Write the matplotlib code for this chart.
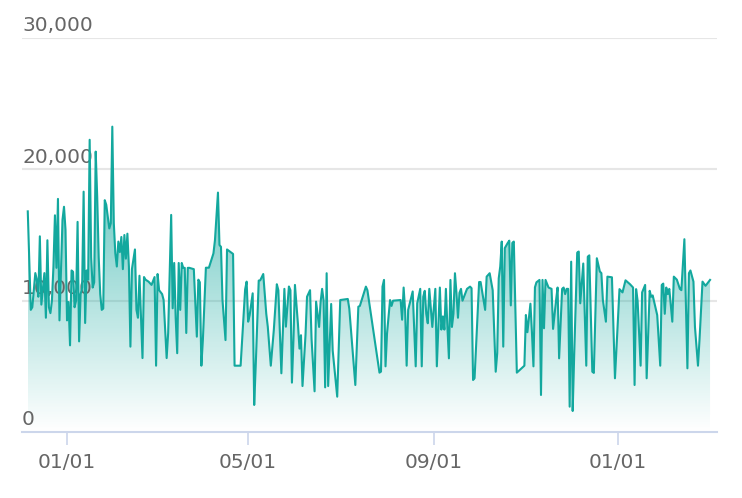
import datetime as dt
import numpy as np
import matplotlib
matplotlib.use("Agg")
import matplotlib.pyplot as plt
import matplotlib.dates as mdates
from matplotlib.colors import LinearSegmentedColormap

# days since 2020-12-06 and the value on that day
start = dt.date(2020, 12, 6)
day_offsets = [
    0, 2, 3, 5, 6, 7, 8, 9, 11, 12, 13, 14, 15, 16, 17, 18, 19, 20, 21, 23,
    24, 25, 26, 27, 28, 29, 30, 31, 32, 33, 34, 35, 36, 37, 38, 39, 40, 41, 42, 43,
    44, 45, 46, 47, 48, 49, 50, 51, 52, 53, 54, 55, 56, 57, 58, 59, 60, 61, 62, 63,
    64, 65, 66, 67, 68, 69, 71, 72, 73, 74, 76, 77, 78, 80, 82, 84, 85, 86, 87, 89,
    90, 92, 93, 95, 96, 97, 98, 99, 100, 101, 102, 103, 104, 105, 106, 107, 110, 112, 113, 114,
    115, 116, 118, 120, 123, 124, 126, 127, 128, 129, 131, 132, 136, 137, 141, 144, 145, 146, 147, 149,
    150, 151, 153, 154, 156, 158, 159, 161, 163, 165, 166, 168, 170, 171, 173, 174, 175, 176, 177, 179,
    180, 181, 182, 184, 185, 187, 188, 190, 191, 193, 194, 195, 196, 197, 198, 199, 201, 202, 205, 207,
    212, 213, 217, 219, 220, 224, 225, 233, 234, 235, 236, 237, 238, 240, 241, 242, 247, 248, 249, 250,
    251, 252, 255, 257, 258, 260, 261, 262, 263, 264, 265, 266, 268, 269, 270, 271, 273, 274, 275, 276,
    277, 278, 279, 280, 281, 282, 283, 284, 285, 286, 287, 288, 291, 293, 294, 295, 296, 299, 300, 303,
    304, 306, 307, 308, 310, 311, 312, 313, 314, 315, 316, 318, 319, 320, 321, 322, 324, 329, 330, 331,
    333, 334, 335, 336, 337, 339, 340, 341, 342, 343, 345, 347, 348, 350, 351, 352, 354, 355, 356, 357,
    358, 359, 360, 361, 362, 364, 365, 366, 367, 368, 370, 371, 372, 374, 375, 377, 379, 380, 381, 383,
    384, 387, 389, 392, 394, 396, 399, 401, 402, 403, 404, 406, 407, 409, 410, 412, 413, 414, 415, 417,
    419, 420, 421, 422, 423, 424, 425, 427, 428, 430, 432, 433, 435, 437, 438, 439, 441, 442, 444, 445,
    447, 449, 452,
]
values = [
    16800, 9300, 9500, 12100, 11600, 10300, 14900, 9700, 12100, 8700, 14600, 9500, 9050, 10000, 12600, 16500, 12500, 17750, 8500, 16150,
    17150, 15400, 8500, 9900, 6600, 12300, 12200, 9500, 10000, 16000, 6900, 10500, 11000, 18300, 8300, 12300, 11600, 22250, 13300, 11000,
    11400, 21350, 17900, 13300, 10500, 9300, 9400, 17650, 17300, 16400, 15500, 15900, 23250, 15900, 13600, 12600, 14500, 13700, 14850, 12400,
    15000, 13200, 15100, 12600, 6500, 12400, 13900, 9300, 8700, 11900, 5630, 11800, 11600, 11450, 11200, 11800, 5050, 12030, 10800, 10500,
    10050, 5630, 7540, 16530, 9420, 12870, 8650, 6000, 12870, 9300, 12870, 12500, 12500, 7540, 12500, 12500, 12400, 7260, 11600, 11400,
    5050, 7000, 12510, 12510, 13600, 14600, 18230, 14240, 14100, 10050, 7000, 13900, 13560, 5050, 5050, 10860, 11450, 8400, 8900, 10560,
    2060, 5000, 11530, 11550, 12030, 9000, 8020, 5050, 7770, 11250, 10800, 4470, 10900, 8020, 11080, 10800, 3760, 7000, 11200, 8200,
    6350, 7370, 3500, 7400, 10300, 10800, 7100, 3100, 9930, 8000, 9900, 10900, 10000, 3400, 12090, 3500, 9750, 6200, 2690, 10050,
    10130, 9400, 3580, 9540, 9600, 11070, 10800, 4520, 4600, 11070, 11580, 5000, 7500, 10050, 9600, 10000, 10050, 8550, 11000, 9200,
    5050, 9300, 10700, 5000, 9800, 10900, 5000, 10300, 10750, 9000, 8280, 10900, 8000, 9400, 10900, 5000, 11000, 7800, 8800, 7800,
    10900, 8000, 5610, 11580, 8000, 9000, 12090, 10600, 8700, 10600, 10900, 10000, 10900, 11070, 10950, 3960, 4100, 11420, 11420, 9300,
    11830, 12090, 11450, 10800, 4590, 6000, 11700, 12600, 14500, 6500, 14000, 14400, 14570, 9640, 14400, 14500, 4520, 5050, 8910, 7600,
    9770, 7600, 5000, 11020, 11400, 11580, 2820, 11580, 7900, 11580, 11000, 10900, 7850, 10050, 11000, 5610, 10900, 11000, 10500, 10900,
    10900, 1930, 12970, 1600, 5900, 13660, 13740, 9800, 11300, 12830, 5050, 13350, 13450, 4590, 4500, 13230, 12220, 12100, 10050, 8400,
    11830, 11780, 4090, 10880, 10630, 11550, 11250, 11000, 3580, 10880, 10000, 5050, 10630, 11200, 4090, 10750, 10300, 10400, 9900, 8900,
    5050, 11200, 11300, 9000, 11000, 10500, 10900, 8400, 11830, 11600, 10900, 10800, 14680, 4850, 12090, 12300, 11450, 8000, 5050, 7000,
    11450, 11130, 11580,
]
y_ticks = [0, 10000, 20000, 30000]
x_ticks = [dt.date(2021, 1, 1), dt.date(2021, 5, 1), dt.date(2021, 9, 1), dt.date(2022, 1, 1)]

line_color = "#13a89e"
text_color = "#666666"
grid_color = "#e6e6e6"
axis_color = "#ccd6eb"

dates = [start + dt.timedelta(days=d) for d in day_offsets]
x = mdates.date2num(dates)
y = np.array(values, dtype=float)

fig = plt.figure(figsize=(7.42, 4.98), dpi=100)
ax = fig.add_axes([0.0297, 0.1325, 0.9366, 0.7912])

xmin = mdates.date2num(start) - 3.8
xmax = mdates.date2num(start) + 456.6
ax.set_xlim(xmin, xmax)
ax.set_ylim(0, 30000)

# gridlines + y labels sitting on top of the lines (labels above the fill, under the line)
for t in y_ticks[1:]:
    ax.axhline(t, color=grid_color, lw=1.5, zorder=0)
for t in y_ticks:
    ax.annotate(f"{t:,}", xy=(0, t), xycoords=("axes fraction", "data"),
                xytext=(0, 2), textcoords="offset points", ha="left", va="bottom",
                fontsize=14.5, color=text_color, zorder=2.5)

# gradient fill under the line: teal fading out towards zero
poly = ax.fill_between(x, y, 0, facecolor="none", edgecolor="none")
teal = (0.075, 0.66, 0.62)
cmap = LinearSegmentedColormap.from_list("fade", [teal + (0.0,), teal + (0.75,)])
grad = np.linspace(0, 1, 256).reshape(-1, 1)
im = ax.imshow(grad, cmap=cmap, aspect="auto", origin="lower",
               extent=[x.min(), x.max(), 0, y.max()], zorder=2)
im.set_clip_path(poly.get_paths()[0], transform=ax.transData)

ax.plot(x, y, color=line_color, lw=1.5, zorder=3)

for s in ["top", "right", "left"]:
    ax.spines[s].set_visible(False)
ax.spines["bottom"].set_color(axis_color)
ax.spines["bottom"].set_linewidth(1.5)
ax.set_yticks([])
ax.set_xticks(mdates.date2num(x_ticks))
ax.xaxis.set_major_formatter(mdates.DateFormatter("%m/%d"))
ax.tick_params(axis="x", length=9, width=1.2, color=axis_color,
               labelcolor=text_color, labelsize=14.5, pad=6)

fig.savefig("out.png", dpi=100)
